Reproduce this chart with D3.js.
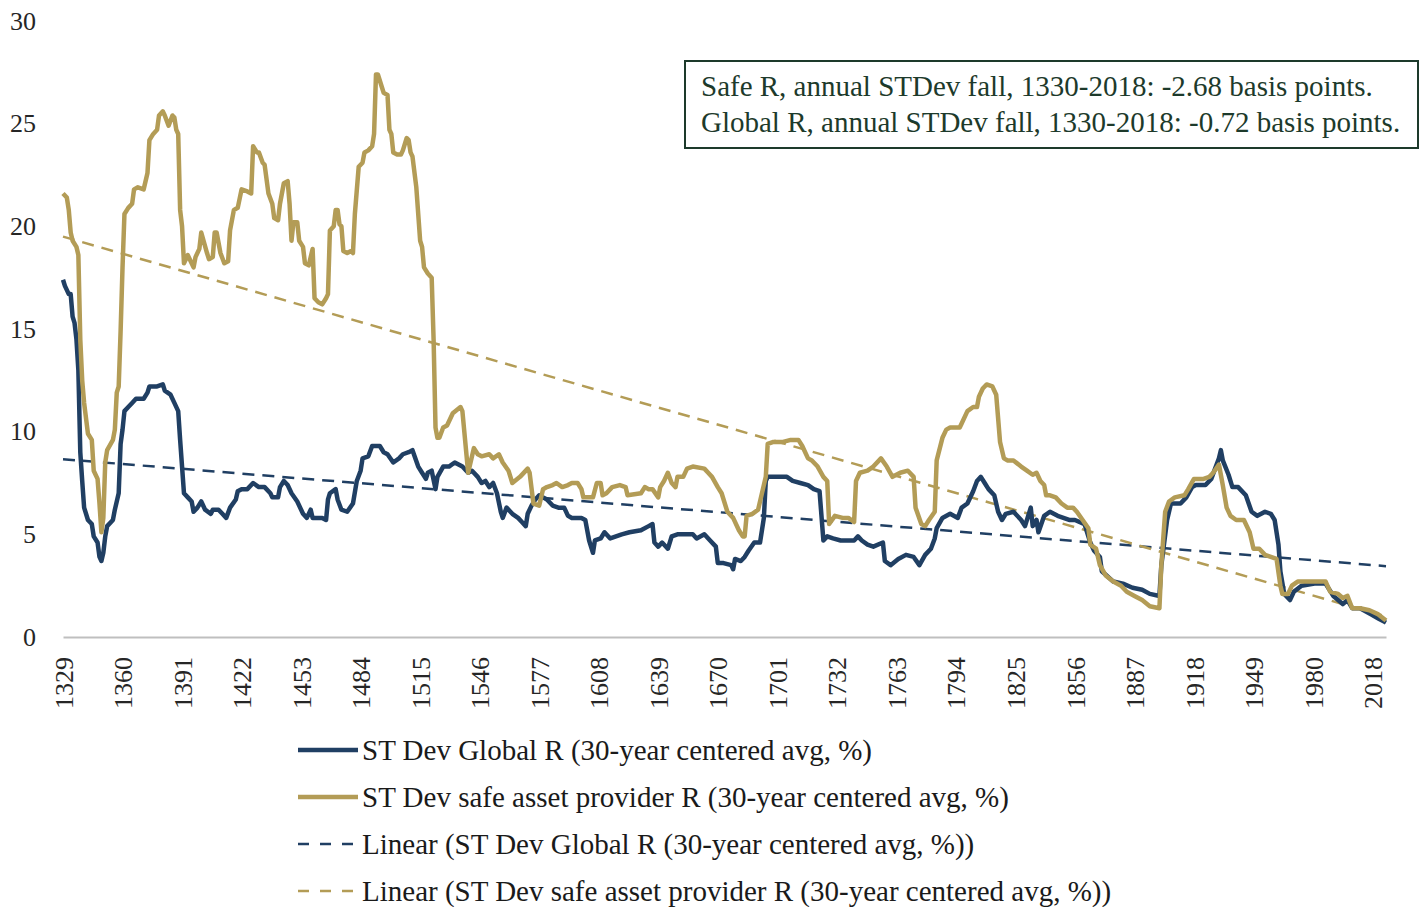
<!DOCTYPE html>
<html>
<head>
<meta charset="utf-8">
<title>ST Dev of R, 1329-2018</title>
<script src="https://d3js.org/d3.v7.min.js"></script>
<style>
  body { margin: 0; background: #fff; }
  svg { display: block; }
  .tick text { font-family: "Liberation Serif", serif; font-size: 26px; fill: #262626; }
  .legend text { font-family: "Liberation Serif", serif; font-size: 29px; fill: #1a1a1a; }
  .note text { font-family: "Liberation Serif", serif; font-size: 29px; fill: #1d3a2b; }
</style>
</head>
<body>
<div id="chart"></div>
<script>
// year labels on the category axis (every 31st row, last one 2018)
var tickYears = [1329, 1360, 1391, 1422, 1453, 1484, 1515, 1546, 1577, 1608, 1639, 1670,
                 1701, 1732, 1763, 1794, 1825, 1856, 1887, 1918, 1949, 1980, 2018];
var yTicks = [0, 5, 10, 15, 20, 25, 30];

// ST Dev Global R (30-year centered avg, %)
var globalR = [
  [1329,17.4],[1330,17.1],[1332,16.7],[1333,16.7],[1334,15.6],[1335,15.3],[1336,14.5],[1337,13.0],
  [1338,9.0],[1339,7.6],[1340,6.3],[1342,5.7],[1344,5.5],[1345,4.9],[1347,4.6],[1348,3.9],[1349,3.7],
  [1350,4.1],[1351,4.9],[1352,5.4],[1355,5.7],[1356,6.2],[1358,7.0],[1359,9.4],[1360,10.1],[1361,11.0],
  [1363,11.2],[1365,11.4],[1367,11.6],[1371,11.6],[1373,11.9],[1374,12.2],[1378,12.2],[1381,12.3],
  [1382,12.0],[1385,11.8],[1387,11.4],[1389,11.0],[1390,9.6],[1392,7.0],[1394,6.8],[1396,6.6],
  [1397,6.1],[1399,6.3],[1401,6.6],[1403,6.2],[1406,6.0],[1407,6.2],[1410,6.2],[1412,6.0],[1414,5.8],
  [1416,6.3],[1419,6.7],[1420,7.1],[1422,7.2],[1425,7.2],[1428,7.5],[1431,7.3],[1434,7.3],[1437,7.0],
  [1438,6.8],[1441,6.8],[1442,7.3],[1444,7.6],[1446,7.4],[1448,7.0],[1451,6.6],[1454,6.0],[1456,5.8],
  [1458,6.2],[1459,5.8],[1461,5.8],[1464,5.8],[1466,5.7],[1467,6.7],[1468,7.0],[1471,7.2],[1472,6.7],
  [1474,6.2],[1477,6.1],[1480,6.5],[1482,7.6],[1484,8.1],[1485,8.7],[1488,8.8],[1490,9.3],[1492,9.3],
  [1494,9.3],[1496,9.0],[1498,8.9],[1501,8.5],[1504,8.7],[1506,8.9],[1509,9.0],[1511,9.1],[1514,8.3],
  [1516,8.0],[1518,7.7],[1519,8.0],[1521,8.1],[1523,7.2],[1524,7.8],[1527,8.3],[1530,8.3],[1533,8.5],
  [1537,8.3],[1540,8.0],[1542,8.1],[1545,7.8],[1547,7.5],[1549,7.6],[1551,7.3],[1553,7.5],[1555,7.0],
  [1557,6.1],[1558,5.8],[1560,6.3],[1563,6.0],[1566,5.8],[1568,5.6],[1570,5.4],[1571,6.0],[1573,6.4],
  [1575,6.7],[1577,6.9],[1579,6.8],[1581,6.7],[1584,6.4],[1587,6.3],[1590,6.3],[1592,5.9],[1594,5.8],
  [1599,5.8],[1601,5.7],[1603,4.7],[1605,4.1],[1606,4.7],[1609,4.8],[1611,5.1],[1614,4.8],[1617,4.9],
  [1620,5.0],[1624,5.1],[1630,5.2],[1634,5.4],[1636,5.5],[1637,4.6],[1639,4.4],[1641,4.6],[1644,4.3],
  [1646,4.9],[1649,5.0],[1657,5.0],[1659,4.8],[1663,5.0],[1666,4.7],[1669,4.4],[1670,3.6],[1673,3.6],
  [1677,3.5],[1678,3.3],[1679,3.8],[1682,3.7],[1684,3.9],[1686,4.2],[1689,4.6],[1692,4.6],[1694,5.8],
  [1695,7.6],[1696,7.8],[1706,7.8],[1709,7.6],[1713,7.5],[1717,7.4],[1720,7.2],[1723,7.1],[1725,4.7],
  [1727,4.9],[1730,4.8],[1734,4.7],[1741,4.7],[1743,4.9],[1745,4.7],[1748,4.5],[1751,4.4],[1756,4.6],
  [1757,3.7],[1760,3.5],[1764,3.8],[1768,4.0],[1772,3.9],[1775,3.5],[1778,4.0],[1781,4.3],[1783,4.8],
  [1784,5.3],[1787,5.8],[1791,6.0],[1795,5.8],[1797,6.3],[1800,6.5],[1803,7.1],[1805,7.6],[1807,7.8],
  [1809,7.5],[1811,7.2],[1814,6.9],[1816,6.1],[1818,5.7],[1820,6.0],[1824,6.1],[1828,5.7],[1830,5.4],
  [1833,6.3],[1834,5.4],[1836,5.7],[1837,5.1],[1840,5.9],[1843,6.1],[1847,5.9],[1853,5.7],[1856,5.7],
  [1861,5.5],[1864,4.6],[1866,4.2],[1869,3.9],[1870,3.2],[1876,2.7],[1881,2.6],[1886,2.4],[1891,2.3],
  [1895,2.1],[1900,2.0],[1901,3.5],[1904,5.7],[1906,6.5],[1911,6.5],[1914,6.8],[1917,7.3],[1919,7.4],
  [1924,7.4],[1927,7.7],[1929,8.2],[1931,8.7],[1932,9.1],[1933,8.6],[1936,7.9],[1938,7.3],[1941,7.3],
  [1945,6.9],[1948,6.1],[1951,5.9],[1955,6.1],[1958,6.0],[1960,5.7],[1962,4.5],[1963,3.2],[1965,2.1],
  [1968,1.8],[1970,2.2],[1974,2.5],[1981,2.6],[1988,2.6],[1993,2.0],[1996,1.8],[1999,1.6],[2002,1.8],
  [2005,1.4],[2010,1.4],[2017,1.1],[2021,0.9],[2025,0.7]
];

// ST Dev safe asset provider R (30-year centered avg, %)
var safeR = [
  [1329,21.6],[1331,21.4],[1332,20.8],[1333,19.7],[1334,19.3],[1336,19.0],[1337,18.6],[1338,14.5],
  [1339,12.5],[1340,11.4],[1342,9.9],[1344,9.6],[1345,8.1],[1347,7.7],[1348,6.5],[1349,5.1],[1350,5.8],
  [1351,8.5],[1352,9.1],[1355,9.6],[1356,10.1],[1357,11.9],[1358,12.2],[1359,14.9],[1360,18.0],
  [1361,20.6],[1363,20.9],[1365,21.1],[1366,21.8],[1368,21.9],[1371,21.8],[1373,22.6],[1374,24.2],
  [1376,24.5],[1378,24.7],[1379,25.4],[1381,25.6],[1382,25.4],[1384,24.9],[1386,25.4],[1387,25.3],
  [1388,24.7],[1389,24.5],[1390,20.8],[1391,20.0],[1392,18.2],[1394,18.6],[1395,18.4],[1397,18.0],
  [1398,18.5],[1400,18.9],[1401,19.7],[1404,18.7],[1405,18.4],[1407,18.5],[1408,19.7],[1409,19.7],
  [1411,18.7],[1413,18.2],[1415,18.3],[1416,19.8],[1418,20.8],[1420,20.9],[1422,21.8],[1425,21.7],
  [1427,21.6],[1428,23.9],[1430,23.6],[1431,23.6],[1433,23.1],[1434,23.0],[1436,21.6],[1438,21.1],
  [1439,20.4],[1441,20.3],[1442,21.1],[1444,22.1],[1446,22.2],[1447,21.1],[1448,19.3],[1449,20.2],
  [1451,20.2],[1452,19.3],[1454,19.0],[1455,18.2],[1457,18.1],[1459,18.9],[1460,16.5],[1462,16.3],
  [1464,16.2],[1466,16.5],[1467,16.7],[1468,19.8],[1470,20.0],[1471,20.8],[1472,20.8],[1473,20.1],
  [1474,20.0],[1475,18.8],[1477,18.7],[1479,18.8],[1480,18.7],[1481,20.6],[1483,22.9],[1485,23.1],
  [1486,23.6],[1488,23.7],[1490,23.9],[1491,24.5],[1492,27.4],[1493,27.4],[1495,26.8],[1496,26.5],
  [1498,26.4],[1499,24.7],[1500,24.5],[1501,23.6],[1503,23.5],[1505,23.5],[1506,23.7],[1508,24.3],
  [1509,24.2],[1510,23.6],[1511,23.4],[1513,21.9],[1515,19.3],[1516,19.0],[1517,18.0],[1519,17.7],
  [1521,17.5],[1522,14.5],[1523,10.2],[1524,9.7],[1525,9.7],[1527,10.2],[1529,10.3],[1532,10.9],
  [1536,11.2],[1537,11.0],[1540,8.0],[1543,9.2],[1545,8.9],[1547,8.8],[1551,8.9],[1553,8.7],[1556,8.9],
  [1558,8.5],[1561,8.1],[1563,7.5],[1567,7.8],[1571,8.2],[1572,8.0],[1574,6.5],[1577,6.4],[1579,7.2],
  [1581,7.3],[1584,7.4],[1586,7.5],[1589,7.3],[1592,7.4],[1594,7.5],[1597,7.5],[1599,7.2],[1600,6.8],
  [1605,6.8],[1607,7.5],[1609,7.5],[1610,6.9],[1612,7.0],[1615,7.3],[1619,7.4],[1622,7.3],[1623,6.9],
  [1630,7.0],[1632,7.3],[1634,7.2],[1636,7.2],[1639,6.8],[1640,7.3],[1642,7.6],[1644,8.0],[1646,7.5],
  [1648,7.3],[1649,7.8],[1652,7.8],[1654,8.2],[1657,8.3],[1663,8.2],[1665,8.0],[1667,7.8],[1670,7.3],
  [1672,7.0],[1675,6.1],[1678,5.8],[1681,5.2],[1683,4.9],[1684,4.9],[1685,5.9],[1688,6.0],[1691,6.2],
  [1693,7.0],[1695,7.8],[1696,9.4],[1699,9.5],[1704,9.5],[1708,9.6],[1712,9.6],[1714,9.3],[1717,8.7],
  [1719,8.6],[1722,8.3],[1725,7.8],[1727,7.6],[1728,5.5],[1731,5.9],[1735,5.8],[1738,5.8],[1741,5.6],
  [1742,7.6],[1744,8.0],[1748,8.1],[1751,8.3],[1755,8.7],[1758,8.3],[1761,7.8],[1765,8.0],[1769,8.1],
  [1772,7.8],[1773,6.3],[1776,5.5],[1778,5.4],[1780,5.7],[1783,6.1],[1784,8.6],[1787,9.7],[1789,10.1],
  [1791,10.2],[1796,10.2],[1797,10.4],[1800,11.0],[1803,11.2],[1805,11.2],[1806,11.7],[1808,12.1],
  [1810,12.3],[1813,12.2],[1815,11.8],[1817,9.5],[1819,8.7],[1821,8.6],[1824,8.6],[1828,8.3],[1831,8.1],
  [1834,7.9],[1836,8.0],[1838,7.6],[1840,7.4],[1841,6.9],[1843,6.9],[1846,6.8],[1849,6.5],[1852,6.3],
  [1855,6.3],[1857,6.1],[1860,5.7],[1863,5.3],[1864,4.5],[1867,4.3],[1869,3.5],[1872,3.0],[1876,2.7],
  [1880,2.5],[1883,2.2],[1887,2.0],[1891,1.8],[1895,1.5],[1900,1.4],[1901,3.5],[1903,6.1],[1905,6.6],
  [1908,6.8],[1913,6.9],[1915,7.2],[1918,7.7],[1923,7.7],[1926,7.8],[1928,8.0],[1931,8.4],[1933,7.4],
  [1935,6.3],[1937,5.9],[1940,5.7],[1944,5.7],[1947,5.1],[1949,4.3],[1952,4.3],[1955,4.0],[1958,3.9],
  [1961,3.8],[1963,2.5],[1964,2.1],[1967,2.1],[1969,2.5],[1972,2.7],[1981,2.7],[1988,2.7],[1991,2.2],
  [1996,2.1],[1999,1.9],[2002,2.0],[2005,1.4],[2010,1.4],[2016,1.3],[2021,1.1],[2025,0.8]
];

// linear trend lines (start and end values)
var trendGlobal = [[1329, 8.66], [2025, 3.45]];
var trendSafe = [[1329, 19.5], [2025, 1.0]];

var noteLines = [
  "Safe R, annual STDev fall, 1330-2018: -2.68 basis points.",
  "Global R, annual STDev fall, 1330-2018: -0.72 basis points."
];
var legendNames = [
  "ST Dev Global R (30-year centered avg, %)",
  "ST Dev safe asset provider R (30-year centered avg, %)",
  "Linear (ST Dev Global R (30-year centered avg, %))",
  "Linear (ST Dev safe asset provider R (30-year centered avg, %))"
];

var w = 1427, h = 907;
var blue = "#203f63", gold = "#b39c56";

var svg = d3.select("#chart").append("svg")
  .attr("width", w)
  .attr("height", h);

// category axis: rows are years, a few are missing after 1980
var left = 63, right = 1386, nRows = 689;
var step = (right - left) / nRows;
var x = d3.scaleLinear()
  .domain([1329, 1980, 2018, 2025])
  .range([0, 651, 682, 689].map(function (i) { return left + i * step; }));

var y = d3.scaleLinear().domain([0, 30]).range([637, 21]);

// x axis
var xAxis = svg.append("g")
  .attr("transform", "translate(0," + y(0) + ")")
  .call(d3.axisBottom(x).tickValues(tickYears).tickFormat(d3.format("d")).tickSize(0).tickSizeOuter(0));
xAxis.select(".domain").attr("stroke", "#bfbfbf").attr("stroke-width", 2);
xAxis.selectAll("text")
  .attr("transform", "rotate(-90)")
  .attr("x", -20)
  .attr("y", 0)
  .attr("dy", "0.35em")
  .style("text-anchor", "end");

// y axis labels only
var yAxis = svg.append("g")
  .attr("transform", "translate(36,0)")
  .call(d3.axisLeft(y).tickValues(yTicks).tickSize(0).tickPadding(0));
yAxis.select(".domain").remove();

var line = d3.line()
  .x(function (d) { return x(d[0]); })
  .y(function (d) { return y(d[1]); });

svg.append("path").datum(trendGlobal)
  .attr("d", line).attr("fill", "none")
  .attr("stroke", blue).attr("stroke-width", 2.5).attr("stroke-dasharray", "12,8");
svg.append("path").datum(trendSafe)
  .attr("d", line).attr("fill", "none")
  .attr("stroke", gold).attr("stroke-width", 2.5).attr("stroke-dasharray", "12,8");

svg.append("path").datum(globalR)
  .attr("d", line).attr("fill", "none")
  .attr("stroke", blue).attr("stroke-width", 4.5).attr("stroke-linejoin", "round");
svg.append("path").datum(safeR)
  .attr("d", line).attr("fill", "none")
  .attr("stroke", gold).attr("stroke-width", 4.5).attr("stroke-linejoin", "round");

// note box
var note = svg.append("g").attr("class", "note");
note.append("rect")
  .attr("x", 685).attr("y", 61).attr("width", 733).attr("height", 87)
  .attr("fill", "#fff").attr("stroke", "#1d3a2b").attr("stroke-width", 2);
note.selectAll("text").data(noteLines).enter().append("text")
  .attr("x", 701)
  .attr("y", function (d, i) { return 96 + i * 36; })
  .text(function (d) { return d; });

// legend
var legendStyle = [
  { color: blue, dash: null },
  { color: gold, dash: null },
  { color: blue, dash: "11,11" },
  { color: gold, dash: "11,11" }
];
var legend = svg.append("g").attr("class", "legend");
var item = legend.selectAll("g").data(legendNames).enter().append("g")
  .attr("transform", function (d, i) { return "translate(0," + (750 + i * 47) + ")"; });
item.append("line")
  .attr("x1", 298).attr("x2", 358)
  .attr("stroke", function (d, i) { return legendStyle[i].color; })
  .attr("stroke-width", function (d, i) { return legendStyle[i].dash ? 2.5 : 4.5; })
  .attr("stroke-dasharray", function (d, i) { return legendStyle[i].dash; });
item.append("text")
  .attr("x", 362)
  .attr("dy", "0.35em")
  .text(function (d) { return d; });
</script>
</body>
</html>
